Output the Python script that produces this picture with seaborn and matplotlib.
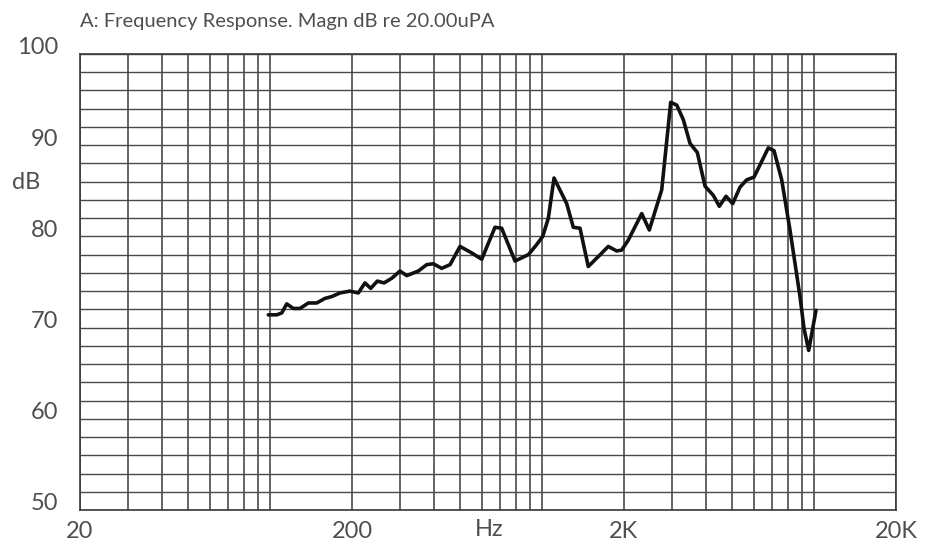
import numpy as np
import pandas as pd
import matplotlib
matplotlib.use("Agg")
import matplotlib.pyplot as plt
from matplotlib.transforms import ScaledTranslation
from matplotlib.ticker import FixedLocator, NullFormatter
import seaborn as sns

# ---- data ----
freq_hz = [98.5, 105.7, 110.3, 115.1, 121.7, 128.8, 138.2, 148.3, 159.1, 168.4,
           180.7, 196.6, 211, 223.2, 234.4, 247.8, 262.2, 279.8, 300.2, 317.8,
           350.6, 376.4, 398, 427.4, 458.6, 499, 543, 599.8, 671, 710,
           795, 890, 955, 1005, 1054, 1106, 1231, 1302, 1378, 1478,
           1623, 1751, 1880, 1961, 2074, 2324, 2478, 2752, 2970, 3125,
           3304, 3497, 3720, 3972, 4260, 4482, 4743, 5020, 5340, 5650,
           6012, 6785, 7122, 7600, 8152, 8874, 9180, 9550, 10160]
level_db = [71.4, 71.4, 71.6, 72.6, 72.1, 72.1, 72.7, 72.7, 73.2, 73.4,
            73.8, 74.0, 73.8, 74.9, 74.3, 75.1, 74.9, 75.4, 76.2, 75.7,
            76.2, 76.9, 77.0, 76.5, 76.9, 78.9, 78.3, 77.5, 81.0, 80.9,
            77.3, 78.0, 79.1, 80.0, 82.0, 86.4, 83.6, 81.0, 80.9, 76.7,
            77.9, 78.9, 78.4, 78.5, 79.6, 82.5, 80.7, 85.1, 94.7, 94.4,
            92.8, 90.2, 89.2, 85.5, 84.5, 83.3, 84.4, 83.6, 85.4, 86.2,
            86.5, 89.7, 89.4, 86.2, 80.7, 73.4, 69.9, 67.5, 71.9]

x_ticks = [20, 200, 2000, 20000]
x_tick_labels = ["20", "200", "2K", "20K"]
y_ticks = [50, 60, 70, 80, 90, 100]
y_tick_labels = ["50", "60", "70", "80", "90", "100"]
title_text = "A: Frequency Response. Magn dB re 20.00uPA"
y_label_text = "dB"
x_unit_text = "Hz"

df = pd.DataFrame({"freq": freq_hz, "db": level_db})

sns.set_style("white")
plt.rcParams["font.family"] = ["Lato", "DejaVu Sans"]

txt_color = "#4f4f4f"
grid_color = "#3a3a3a"

fig = plt.figure(figsize=(9.25, 5.46), dpi=100)
ax = fig.add_axes([80 / 925, 36 / 546, 816 / 925, 456 / 546])

sns.lineplot(data=df, x="freq", y="db", ax=ax, color="#111111", linewidth=2.6,
             sort=False, zorder=5)

ax.set_xscale("log")
ax.set_xlim(20, 20000)
ax.set_ylim(50, 100)

# grid positions
minor_x = [k * 10 ** n for n in range(1, 5) for k in range(1, 10)
           if 20 < k * 10 ** n < 20000]
ax.xaxis.set_major_locator(FixedLocator(x_ticks))
ax.set_xticklabels(x_tick_labels)
ax.xaxis.set_minor_locator(FixedLocator(minor_x))
ax.xaxis.set_minor_formatter(NullFormatter())
ax.yaxis.set_major_locator(FixedLocator(y_ticks))
ax.set_yticklabels(y_tick_labels)
ax.yaxis.set_minor_locator(FixedLocator(list(range(52, 100, 2))))
ax.yaxis.set_minor_formatter(NullFormatter())

ax.grid(True, which="both", axis="x", color=grid_color, linewidth=1.1)
ax.grid(True, which="both", axis="y", color="#4a4a4a", linewidth=1.0)
ax.tick_params(which="both", length=0)
ax.tick_params(axis="y", labelsize=17, labelcolor=txt_color, pad=16)
ax.tick_params(axis="x", labelsize=17, labelcolor=txt_color, pad=8)
for lab in ax.get_yticklabels():
    lab.set_transform(lab.get_transform() + ScaledTranslation(0, 0.08, fig.dpi_scale_trans))

for sp in ax.spines.values():
    sp.set_color(grid_color)
    sp.set_linewidth(1.2)
    sp.set_visible(True)

ax.set_xlabel("")
ax.set_ylabel("")

ax.text(638, -0.042, x_unit_text, transform=ax.get_xaxis_transform(),
        ha="center", va="center", fontsize=17, color=txt_color)
fig.text(26 / 925, 1 - 183 / 546, y_label_text, ha="center", va="center",
         fontsize=17, color=txt_color)
fig.text(80 / 925, 1 - 22 / 546, title_text, ha="left", va="center",
         fontsize=14.5, color=txt_color)

fig.savefig("out.png", dpi=100)
